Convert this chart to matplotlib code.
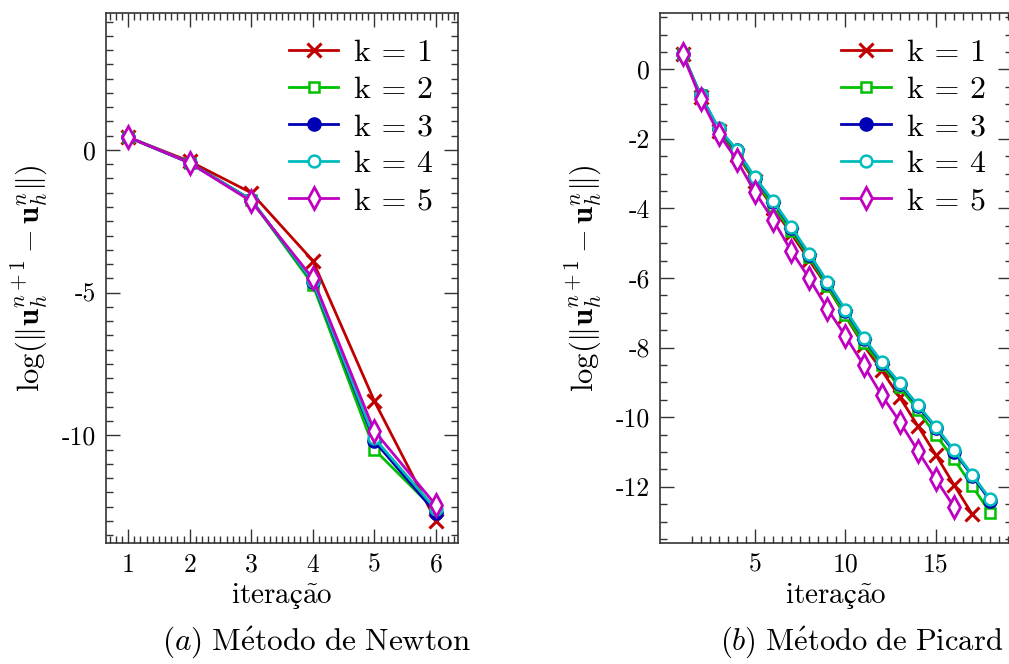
import numpy as np
import matplotlib
matplotlib.use("Agg")
from matplotlib import pyplot as plt
from matplotlib.ticker import MultipleLocator, FixedLocator

plt.rcParams['font.family'] = ['cmr10', 'DejaVu Serif']
plt.rcParams['mathtext.fontset'] = 'cm'
plt.rcParams['axes.unicode_minus'] = False
plt.rcParams['axes.formatter.use_mathtext'] = False

labels = ['k = 1', 'k = 2', 'k = 3', 'k = 4', 'k = 5']
colors = ['#c00000', '#00c000', '#0000b4', '#00bcbc', '#c000c0']

# Newton, iterations 1..6
newton_k1 = [0.45, -0.40, -1.50, -3.88, -8.80, -13.00]
newton_k2 = [0.45, -0.45, -1.75, -4.72, -10.50, -12.65]
newton_k3 = [0.45, -0.45, -1.75, -4.62, -10.20, -12.72]
newton_k4 = [0.45, -0.45, -1.75, -4.60, -10.10, -12.60]
newton_k5 = [0.45, -0.45, -1.80, -4.50, -9.85, -12.45]

# Picard
picard_k1 = [0.45, -0.80, -1.78, -2.45, -3.22, -3.98, -4.72, -5.49, -6.25, -7.10,
             -7.93, -8.65, -9.43, -10.25, -11.09, -11.95, -12.79]
picard_k2 = [0.45, -0.75, -1.75, -2.40, -3.18, -3.92, -4.65, -5.39, -6.23, -7.07,
             -7.88, -8.50, -9.14, -9.80, -10.52, -11.21, -11.98, -12.75]
picard_k3 = [0.45, -0.75, -1.72, -2.33, -3.13, -3.80, -4.56, -5.33, -6.14, -6.94,
             -7.74, -8.43, -9.05, -9.68, -10.32, -10.99, -11.68, -12.41]
picard_k4 = [0.45, -0.75, -1.70, -2.31, -3.11, -3.78, -4.53, -5.30, -6.11, -6.91,
             -7.71, -8.40, -9.02, -9.65, -10.28, -10.95, -11.65, -12.36]
picard_k5 = [0.45, -0.84, -1.85, -2.61, -3.53, -4.32, -5.22, -6.01, -6.88, -7.67,
             -8.50, -9.37, -10.13, -10.97, -11.79, -12.58]

newton = [newton_k1, newton_k2, newton_k3, newton_k4, newton_k5]
picard = [picard_k1, picard_k2, picard_k3, picard_k4, picard_k5]

styles = [dict(marker='x', ms=10, mew=2.2),
          dict(marker='s', ms=7.5, mew=1.8, mfc='white'),
          dict(marker='o', ms=9, mew=1.5),
          dict(marker='o', ms=8.5, mew=1.8, mfc='white'),
          dict(marker='d', ms=11, mew=2.0, mfc='white')]

xlab = r'$\mathrm{iteraç\tilde{a}o}$'
ylab = r'$\log(\|\mathbf{u}_h^{n+1}-\mathbf{u}_h^n\|)$'

fig = plt.figure(figsize=(10.09, 6.64), dpi=100)
ax1 = fig.add_axes([0.105, 0.182, 0.349, 0.798])
ax2 = fig.add_axes([0.654, 0.182, 0.349, 0.798])


def draw(ax, series):
    for ys, lab, c, st in zip(series, labels, colors, styles):
        it = np.arange(1, len(ys) + 1)
        ax.plot(it, ys, '-', color=c, lw=2.0, label=lab, **st)
    ax.tick_params(which='both', direction='in', top=True, right=True,
                   labelsize=18.5, width=1.0, color='#333333')
    ax.tick_params(which='major', length=10, pad=7)
    ax.tick_params(which='minor', length=5)
    for s in ax.spines.values():
        s.set_linewidth(1.2)
        s.set_color('#333333')
    ax.set_xlabel(xlab, fontsize=21, labelpad=3)
    ax.set_ylabel(ylab, fontsize=22, labelpad=9)


draw(ax1, newton)
ax1.set_xlim(0.64, 6.36)
ax1.set_ylim(-13.78, 4.79)
ax1.xaxis.set_major_locator(MultipleLocator(1))
ax1.xaxis.set_minor_locator(MultipleLocator(0.1))
ax1.yaxis.set_major_locator(MultipleLocator(5))
ax1.yaxis.set_minor_locator(MultipleLocator(0.5))

draw(ax2, picard)
ax2.set_xlim(-0.25, 19.2)
ax2.set_ylim(-13.62, 1.61)
ax2.xaxis.set_major_locator(FixedLocator([5, 10, 15]))
ax2.xaxis.set_minor_locator(FixedLocator(np.arange(1.5, 19.1, 0.5)))
ax2.yaxis.set_major_locator(MultipleLocator(2))
ax2.yaxis.set_minor_locator(MultipleLocator(0.5))

for ax, xr in [(ax1, 0.93), (ax2, 0.925)]:
    ax.legend(loc='upper right', bbox_to_anchor=(xr, 0.952), frameon=False,
              fontsize=23, handlelength=1.55, handletextpad=0.5,
              labelspacing=0.27, borderpad=0, borderaxespad=0)

fig.text(0.314, 0.022, r'$(a)\ \mathrm{M\acute{e}todo\ de\ Newton}$', fontsize=22.5, ha='center')
fig.text(0.854, 0.022, r'$(b)\ \mathrm{M\acute{e}todo\ de\ Picard}$', fontsize=22, ha='center')

fig.savefig('out.png', dpi=100)
